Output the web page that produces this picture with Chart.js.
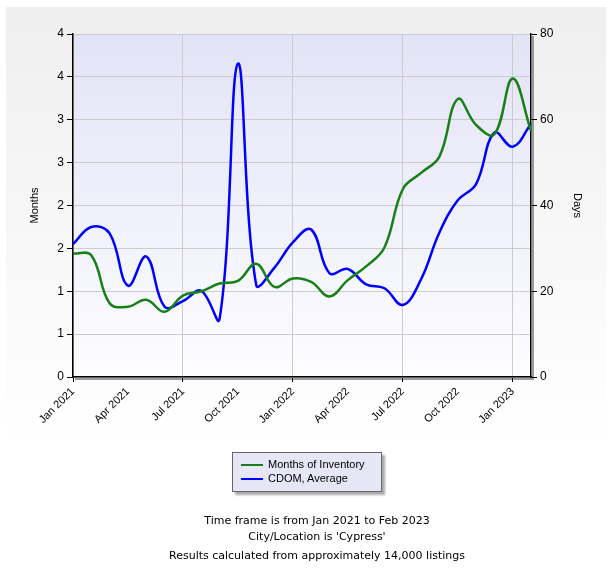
<!DOCTYPE html>
<html>
<head>
<meta charset="utf-8">
<script src="https://cdn.jsdelivr.net/npm/chart.js@4.4.0/dist/chart.umd.min.js"></script>
<style>
  body { margin: 0; background: #fff; }
  #wrap { position: relative; width: 614px; height: 582px; }
  #legend {
    position: absolute; left: 232px; top: 452px; width: 148px; height: 38px;
    background: #e6e6f7; border: 1px solid #666; box-shadow: 3px 3px 2px #aaa;
    font: 11px "Liberation Sans", Arial, sans-serif; color: #000;
  }
  #legend .row { position: absolute; left: 8px; height: 14px; line-height: 14px; white-space: nowrap; }
  #legend .sw { display: inline-block; width: 22px; height: 2px; vertical-align: middle; margin-right: 5px; }
  .foot {
    position: absolute; left: 17px; width: 600px; text-align: center; height: 16px; line-height: 16px;
    font: 11px "DejaVu Sans", Verdana, sans-serif; color: #000;
  }
</style>
</head>
<body>
<div id="wrap">
  <canvas id="myChart"></canvas>
  <div id="legend"></div>
  <div class="foot" style="top:514px">Time frame is from Jan 2021 to Feb 2023</div>
  <div class="foot" style="top:530px">City/Location is 'Cypress'</div>
  <div class="foot" style="top:549px">Results calculated from approximately 14,000 listings</div>
</div>
<script>
// monthly data, Jan 2021 .. Feb 2023
var months = ['Jan 2021', 'Feb 2021', 'Mar 2021', 'Apr 2021', 'May 2021', 'Jun 2021',
  'Jul 2021', 'Aug 2021', 'Sep 2021', 'Oct 2021', 'Nov 2021', 'Dec 2021',
  'Jan 2022', 'Feb 2022', 'Mar 2022', 'Apr 2022', 'May 2022', 'Jun 2022',
  'Jul 2022', 'Aug 2022', 'Sep 2022', 'Oct 2022', 'Nov 2022', 'Dec 2022',
  'Jan 2023', 'Feb 2023'];

var monthsOfInventory = [1.44, 1.42, 0.86, 0.82, 0.90, 0.76, 0.95, 1.00, 1.09, 1.12, 1.32, 1.05,
  1.15, 1.11, 0.94, 1.13, 1.29, 1.51, 2.19, 2.38, 2.57, 3.24, 2.94, 2.83, 3.48, 2.87];

var cdomAverage = [31.0, 35.0, 33.5, 21.3, 28.1, 16.4, 17.7, 20.1, 13.5, 73.1, 21.5, 25.5,
  31.4, 34.4, 24.2, 25.2, 21.6, 20.7, 16.8, 22.8, 33.7, 41.2, 45.0, 57.0, 53.7, 59.0];

var leftTicks = { min: 0, max: 4, step: 0.5 };
var rightTicks = { min: 0, max: 80, step: 20 };

var green = '#188018';
var blue = '#0000ff';
var tickFont = { family: 'Liberation Sans, Arial, sans-serif', size: 12 };

// background panel + plot gradient + axis shadow
var backdrop = {
  id: 'backdrop',
  beforeDraw: function(chart) {
    var c = chart.ctx, a = chart.chartArea;
    var g = c.createLinearGradient(0, 7, 0, 445);
    g.addColorStop(0, '#efefef');
    g.addColorStop(1, '#ffffff');
    c.save();
    c.fillStyle = g;
    c.fillRect(6, 7, 600, 438);
    var p = c.createLinearGradient(0, a.top, 0, a.bottom);
    p.addColorStop(0, '#e3e3f7');
    p.addColorStop(1, '#fdfdff');
    c.fillStyle = p;
    c.fillRect(a.left, a.top, a.right - a.left, a.bottom - a.top);
    c.fillStyle = '#9a9a9a';
    c.fillRect(a.left + 2, a.bottom + 1, a.right - a.left + 1, 2);
    c.fillRect(a.right + 1, a.top + 2, 2, a.bottom - a.top + 1);
    c.restore();
  }
};

var ctx = document.getElementById('myChart').getContext('2d');
var myChart = new Chart(ctx, {
  type: 'line',
  data: {
    labels: months,
    datasets: [{
      label: 'Months of Inventory',
      data: monthsOfInventory,
      borderColor: green,
      borderWidth: 2.5,
      pointRadius: 0,
      tension: 0.4,
      yAxisID: 'y'
    }, {
      label: 'CDOM, Average',
      data: cdomAverage,
      borderColor: blue,
      borderWidth: 2.5,
      pointRadius: 0,
      tension: 0.4,
      yAxisID: 'y1'
    }]
  },
  options: {
    responsive: true,
    maintainAspectRatio: false,
    animation: false,
    layout: { padding: { top: 34, left: 0, right: 0, bottom: 0 } },
    plugins: { legend: { display: false }, tooltip: { enabled: false } },
    scales: {
      x: {
        offset: false,
        afterFit: function(s) { s.height = 205; },
        grid: {
          color: function(c) { return c.index % 6 === 0 ? '#cccccc' : 'rgba(0,0,0,0)'; },
          tickColor: function(c) { return c.index % 6 === 0 ? '#000' : 'rgba(0,0,0,0)'; },
          tickLength: 5
        },
        border: { color: '#000', width: 1.5 },
        ticks: {
          autoSkip: false,
          maxRotation: 45,
          minRotation: 45,
          padding: 3,
          color: '#000',
          font: { family: 'Liberation Sans, Arial, sans-serif', size: 11 },
          callback: function(v, i) { return i % 3 === 0 && i < 25 ? months[i] : ''; }
        }
      },
      y: {
        position: 'left',
        min: leftTicks.min,
        max: leftTicks.max,
        afterFit: function(s) { s.width = 73; },
        grid: { color: '#cccccc', tickColor: '#000', tickLength: 6 },
        border: { color: '#000', width: 1.5 },
        ticks: {
          stepSize: leftTicks.step,
          padding: 3,
          color: '#000',
          font: tickFont,
          callback: function(v) { return Math.round(v); }
        },
        title: {
          display: true,
          text: 'Months',
          color: '#000',
          font: { family: 'Liberation Sans, Arial, sans-serif', size: 11 },
          padding: { top: 28, bottom: 0 }
        }
      },
      y1: {
        position: 'right',
        min: rightTicks.min,
        max: rightTicks.max,
        afterFit: function(s) { s.width = 83; },
        grid: { drawOnChartArea: false, tickColor: '#000', tickLength: 6 },
        border: { color: '#000', width: 1.5 },
        ticks: {
          stepSize: rightTicks.step,
          padding: 3,
          color: '#000',
          font: tickFont
        },
        title: {
          display: true,
          text: 'Days',
          color: '#000',
          font: { family: 'Liberation Sans, Arial, sans-serif', size: 11 },
          padding: { top: 30, bottom: 0 }
        }
      }
    }
  },
  plugins: [backdrop]
});

// html legend built from the datasets
var legend = document.getElementById('legend');
myChart.data.datasets.forEach(function(ds, i) {
  var row = document.createElement('div');
  row.className = 'row';
  row.style.top = (4 + i * 14) + 'px';
  row.innerHTML = '<span class="sw" style="background:' + ds.borderColor + '"></span>' + ds.label;
  legend.appendChild(row);
});
</script>
</body>
</html>
